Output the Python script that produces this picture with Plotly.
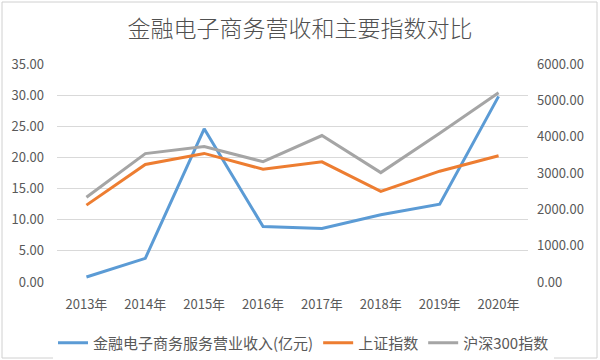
import plotly.graph_objects as go

years = ["2013年", "2014年", "2015年", "2016年", "2017年", "2018年", "2019年", "2020年"]
ecommerce_revenue = [0.8, 3.8, 24.6, 8.9, 8.6, 10.8, 12.5, 29.8]
sse_index = [2116, 3235, 3539, 3104, 3307, 2494, 3050, 3473]
csi300_index = [2331, 3534, 3731, 3311, 4031, 3011, 4097, 5211]

left_ticks = [0, 5, 10, 15, 20, 25, 30, 35]
right_ticks = [0, 1000, 2000, 3000, 4000, 5000, 6000]

FONT = "Noto Sans CJK SC"
TXT = "#595959"

T, B, L, R = 64, 78, 57, 72

fig = go.Figure()
fig.add_trace(go.Scatter(x=years, y=ecommerce_revenue, name="金融电子商务服务营业收入(亿元)",
                         mode="lines", line=dict(color="#5B9BD5", width=3), yaxis="y"))
fig.add_trace(go.Scatter(x=years, y=sse_index, name="上证指数",
                         mode="lines", line=dict(color="#ED7D31", width=3), yaxis="y2"))
fig.add_trace(go.Scatter(x=years, y=csi300_index, name="沪深300指数",
                         mode="lines", line=dict(color="#A5A5A5", width=3), yaxis="y2"))

fig.update_layout(
    width=600, height=360,
    margin=dict(l=L, r=R, t=T, b=B, autoexpand=False),
    paper_bgcolor="#ffffff", plot_bgcolor="#ffffff",
    font=dict(family=FONT, size=13, color=TXT),
    title=dict(text="金融电子商务营收和主要指数对比", x=0.5, xanchor="center",
               y=1 - 29 / 360, yanchor="middle", yref="container", automargin=False,
               font=dict(family=FONT, size=23, color="#505050", weight=300)),
    xaxis=dict(type="category", showgrid=False, showline=False, ticks="",
               ticklabelstandoff=13, automargin=False,
               tickfont=dict(size=13, color=TXT), range=[-0.5, 7.5]),
    yaxis=dict(range=[0, 35], tickvals=left_ticks, ticktext=[f"{v:.2f}" for v in left_ticks],
               showgrid=True, gridcolor="#d9d9d9", gridwidth=1, zeroline=False,
               showline=False, ticks="", ticklabelstandoff=12, automargin=False,
               tickfont=dict(size=13, color=TXT)),
    yaxis2=dict(range=[0, 6000], tickvals=right_ticks, ticktext=[f"{v:.2f}" for v in right_ticks],
                overlaying="y", side="right", showgrid=False, zeroline=False,
                showline=False, ticks="", ticklabelstandoff=8, automargin=False,
                tickfont=dict(size=13, color=TXT)),
    legend=dict(orientation="h", xref="paper", yref="paper",
                x=(53 - 57) / 471, xanchor="left", y=-(343 - 282) / 218, yanchor="middle",
                font=dict(size=15, color=TXT), itemwidth=30, tracegroupgap=0),
)
# outer border of the chart
fig.add_shape(type="rect", xref="x domain", yref="y domain",
              x0=-55 / 471, x1=1 + 69 / 471, y0=-76 / 218, y1=1 + 62 / 218,
              line=dict(color="#d0d0d0", width=1), layer="below")
fig.write_html("out.html", config={"displayModeBar": False},
               post_script="document.body.style.margin='0';")
